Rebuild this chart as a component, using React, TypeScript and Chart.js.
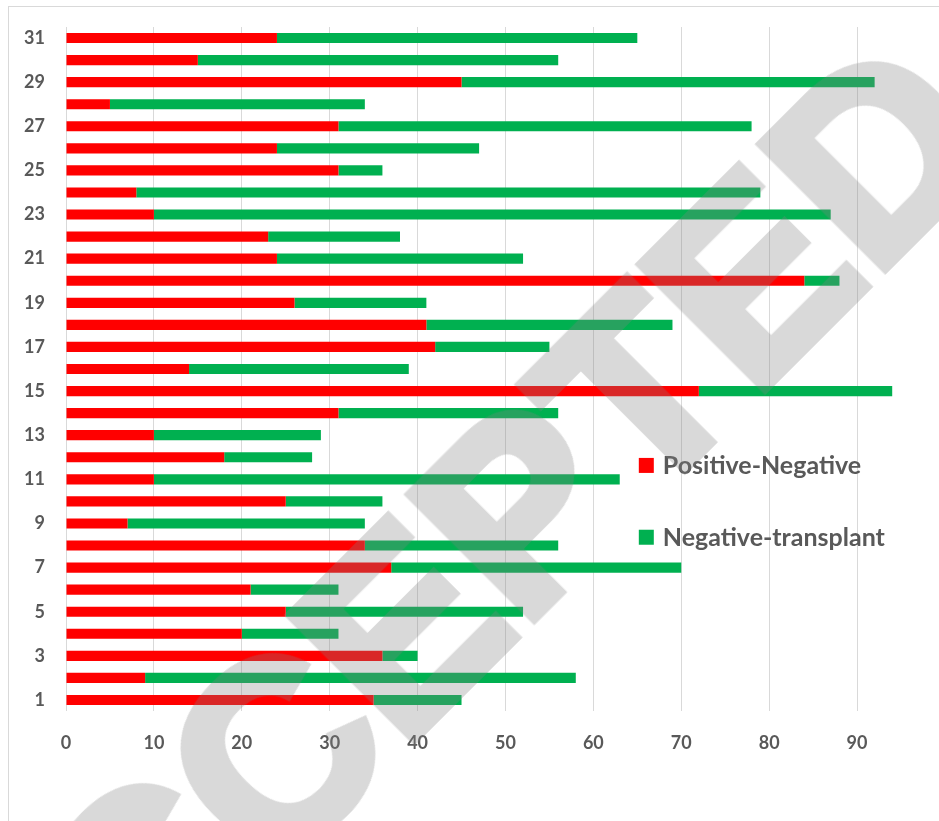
import React, { useEffect, useRef } from "react";
import { Chart, registerables } from "chart.js";

Chart.register(...registerables);

const categories = ["1","2","3","4","5","6","7","8","9","10","11","12","13","14","15","16","17","18","19","20","21","22","23","24","25","26","27","28","29","30","31"];
const positiveNegative = [35, 9, 36, 20, 25, 21, 37, 34, 7, 25, 10, 18, 10, 31, 72, 14, 42, 41, 26, 84, 24, 23, 10, 8, 31, 24, 31, 5, 45, 15, 24];
const negativeTransplant = [10, 49, 4, 11, 27, 10, 33, 22, 27, 11, 53, 10, 19, 25, 22, 25, 13, 28, 15, 4, 28, 15, 77, 71, 5, 23, 47, 29, 47, 41, 41];
const seriesNames = ["Positive-Negative", "Negative-transplant"];
const seriesColors = ["#FF0000", "#00B050"];
const xTickStep = 10;
const xMax = 95;

const TEXT = "#595959";
const FONT = "Lato, 'Open Sans', sans-serif";

const legendPlugin = {
  id: "insideLegend",
  afterDatasetsDraw(chart: any) {
    const { ctx, chartArea } = chart;
    const w = chartArea.right - chartArea.left;
    const h = chartArea.bottom - chartArea.top;
    const x = chartArea.left + w * 0.686;
    const ys = [chartArea.top + h * 0.63, chartArea.top + h * 0.735];
    ctx.save();
    chart.data.datasets.forEach((ds: any, i: number) => {
      const y = ys[i];
      ctx.fillStyle = ds.backgroundColor;
      ctx.fillRect(x, y, 15, 15);
      ctx.fillStyle = TEXT;
      ctx.font = `bold 25px ${FONT}`;
      ctx.textBaseline = "middle";
      ctx.textAlign = "left";
      ctx.fillText(ds.label, x + 24, y + 8);
    });
    ctx.restore();
  },
};

export default function App() {
  const ref = useRef<HTMLCanvasElement | null>(null);
  useEffect(() => {
    if (!ref.current) return;
    const chart = new Chart(ref.current, {
      type: "bar",
      data: {
        labels: categories,
        datasets: [
          { label: seriesNames[0], data: positiveNegative, backgroundColor: seriesColors[0], borderWidth: 0, barPercentage: 1, categoryPercentage: 0.46 },
          { label: seriesNames[1], data: negativeTransplant, backgroundColor: seriesColors[1], borderWidth: 0, barPercentage: 1, categoryPercentage: 0.46 },
        ],
      },
      options: {
        indexAxis: "y",
        animation: false,
        responsive: true,
        maintainAspectRatio: false,
        layout: { padding: { top: 20, left: 0, right: 38, bottom: 0 } },
        plugins: { legend: { display: false }, tooltip: { enabled: false } },
        scales: {
          x: {
            stacked: true,
            min: 0,
            max: xMax,
            afterBuildTicks: (scale: any) => {
              scale.ticks = scale.ticks.filter((t: any) => t.value % xTickStep === 0);
            },
            afterFit: (scale: any) => { scale.height = 110; },
            ticks: { stepSize: xTickStep, color: TEXT, font: { family: FONT, size: 18, weight: "bold" }, padding: 21, maxRotation: 0 },
            grid: { color: "#d9d9d9", lineWidth: 1, drawTicks: false },
            border: { display: false },
          },
          y: {
            stacked: true,
            reverse: true,
            afterFit: (scale: any) => {
              scale.width = 57;
              scale.paddingTop = 0;
              scale.paddingBottom = 0;
            },
            ticks: {
              autoSkip: false,
              color: TEXT,
              font: { family: FONT, size: 18, weight: "bold" },
              padding: 21,
              callback: (_v: any, i: number) => (i % 2 === 0 ? categories[i] : ""),
            },
            grid: { display: false, drawTicks: false },
            border: { display: false },
          },
        },
      },
      plugins: [legendPlugin],
    });
    return () => chart.destroy();
  }, []);

  return (
    <div
      style={{
        position: "absolute",
        left: 8,
        top: 6,
        width: 931,
        height: 815,
        boxSizing: "border-box",
        borderLeft: "1px solid #d9d9d9",
        borderTop: "1px solid #d9d9d9",
        overflow: "hidden",
        background: "#fff",
      }}
    >
      <div style={{ position: "relative", width: 930, height: 814 }}>
        <canvas ref={ref} />
      </div>
      <div
        style={{
          position: "absolute",
          left: 436,
          top: 576,
          transform: "translate(-50%, -50%) rotate(-45deg)",
          font: "bold 255px 'Liberation Sans', sans-serif",
          color: "#808080",
          WebkitTextStroke: "10px #808080",
          opacity: 0.3,
          whiteSpace: "nowrap",
          pointerEvents: "none",
          lineHeight: 1,
        }}
      >
        ACCEPTED
      </div>
    </div>
  );
}
